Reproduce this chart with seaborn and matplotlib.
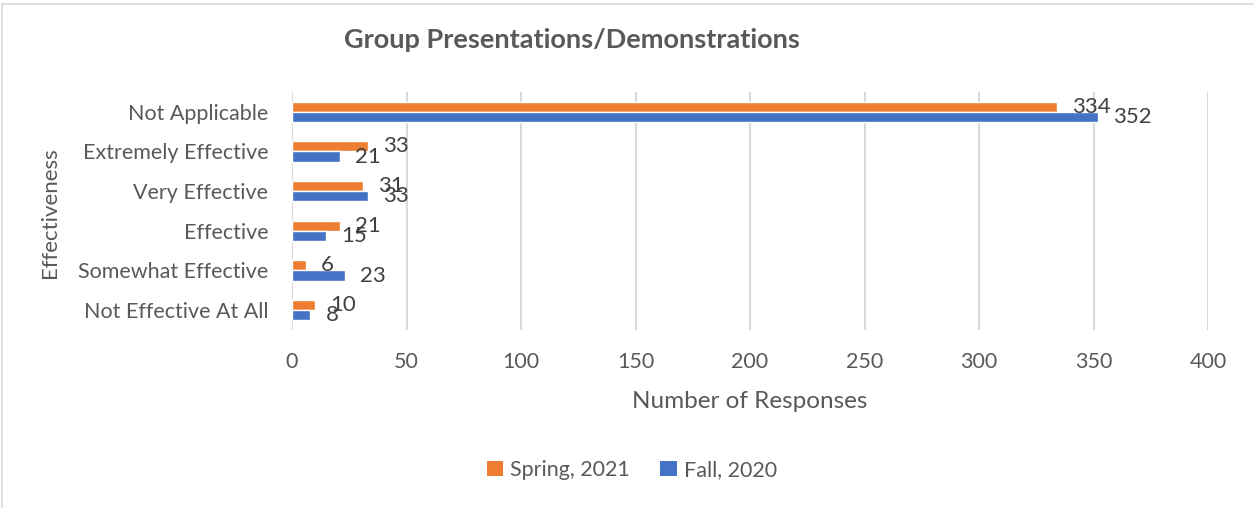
import matplotlib
matplotlib.use("Agg")
import matplotlib.pyplot as plt
import seaborn as sns
import pandas as pd
from matplotlib.patches import Patch
from matplotlib.lines import Line2D

categories = ["Not Applicable", "Extremely Effective", "Very Effective",
              "Effective", "Somewhat Effective", "Not Effective At All"]
series_names = ["Spring, 2021", "Fall, 2020"]
spring_2021 = [334, 33, 31, 21, 6, 10]
fall_2020 = [352, 21, 33, 15, 23, 8]
x_ticks = [0, 50, 100, 150, 200, 250, 300, 350, 400]

colors = {"Spring, 2021": "#ED7D31", "Fall, 2020": "#4472C4"}

df = pd.DataFrame({
    "Effectiveness": categories * 2,
    "Series": [series_names[0]] * len(categories) + [series_names[1]] * len(categories),
    "Responses": spring_2021 + fall_2020,
})

sns.set_theme(style="white")
plt.rcParams["font.family"] = ["Lato", "DejaVu Sans"]

W, H = 1254, 508
fig = plt.figure(figsize=(W / 100, H / 100), dpi=100)
ax = fig.add_axes([292 / W, 1 - 330 / H, (1208 - 292) / W, (330 - 92) / H])

sns.barplot(data=df, y="Effectiveness", x="Responses", hue="Series",
            order=categories, hue_order=series_names, palette=colors,
            orient="h", width=0.52, ax=ax, legend=False, saturation=1)

ax.set_xlim(0, 400)
ax.set_ylim(5.5, -0.5)
ax.set_xticks(x_ticks)
ax.set_xticklabels([str(t) for t in x_ticks])
ax.grid(axis="x", color="#D9D9D9", linewidth=1.5)
ax.set_axisbelow(True)
for s in ax.spines.values():
    s.set_visible(False)
ax.tick_params(axis="both", length=0, labelsize=15.5, colors="#595959")
ax.tick_params(axis="x", pad=16)
ax.tick_params(axis="y", pad=17)
ax.set_xlabel("")
ax.set_ylabel("")

for cont in ax.containers:
    ax.bar_label(cont, padding=11, fontsize=16, color="#404040")

fig.text(572 / W, 1 - 40 / H, "Group Presentations/Demonstrations",
         ha="center", va="center", fontsize=19.5, fontweight="bold", color="#595959")
fig.text(750 / W, 1 - 402 / H, "Number of Responses",
         ha="center", va="center", fontsize=17.5, color="#595959")
fig.text(50 / W, 1 - 213 / H, "Effectiveness", rotation=90,
         ha="center", va="center", fontsize=16, color="#595959")

handles = [Patch(facecolor=colors[n], edgecolor="none", label=n) for n in series_names]
leg = fig.legend(handles=handles, loc="center", bbox_to_anchor=(632 / W, 1 - 470 / H),
                 ncol=2, frameon=False, fontsize=15.5, handlelength=0.75, handleheight=0.75,
                 handletextpad=0.35, columnspacing=1.4)
for t in leg.get_texts():
    t.set_color("#595959")

fig.add_artist(Line2D([1.5 / W, 1.5 / W], [0, 1 - 4 / H], color="#D9D9D9", linewidth=1.2))
fig.add_artist(Line2D([1.5 / W, 1], [1 - 4 / H, 1 - 4 / H], color="#D9D9D9", linewidth=1.2))

fig.savefig("out.png", dpi=100)
